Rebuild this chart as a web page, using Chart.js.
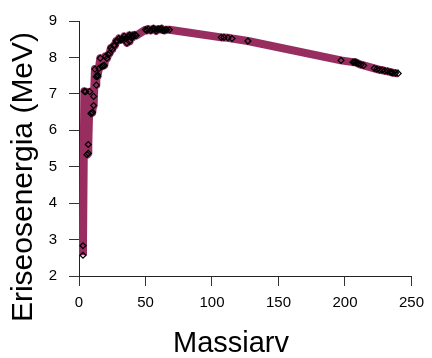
<!DOCTYPE html>
<html lang="et">
<head>
    <meta charset="UTF-8">
    <title>Eriseosenergia</title>
    <style>
        body { margin: 0; padding: 0; background: #fff; }
        canvas { display: block; }
    </style>
    <script src="https://cdn.jsdelivr.net/npm/chart.js"></script>
</head>
<body>
    <canvas id="chart" width="432" height="358"></canvas>
    <script>
        // massiarv (A) ja eriseosenergia (MeV), loetud jooniselt
        const massNumbers = [3, 3, 4, 5, 6, 7, 7, 8, 9, 10, 10, 11, 11, 12, 13, 13, 14, 14, 15, 16, 17, 18, 19,
            20, 21, 22, 23, 24, 25, 26, 27, 28, 29, 30, 31, 32, 33, 34, 35, 36, 37, 38, 38, 39, 40, 40, 41, 42, 43,
            50, 51, 52, 54, 55, 56, 57, 58, 59, 60, 61, 62, 63, 64, 65, 66, 68,
            107, 109, 112, 115, 127,
            197, 206, 207, 208, 209, 210, 212, 214,
            222, 224, 226, 228, 230, 232, 234, 235, 236, 238, 240];
        const bindingEnergies = [2.57, 2.83, 7.07, 7.06, 5.33, 5.37, 5.61, 7.06, 6.46, 6.48, 6.50, 6.93, 6.68, 7.68, 7.24, 7.47, 7.48, 7.52, 7.70, 7.98, 7.75, 7.77, 7.78,
            8.03, 7.97, 8.08, 8.11, 8.26, 8.22, 8.33, 8.33, 8.45, 8.45, 8.52, 8.48, 8.49, 8.50, 8.58, 8.52, 8.40, 8.57, 8.44, 8.61, 8.56, 8.60, 8.55, 8.58, 8.62, 8.60,
            8.76, 8.74, 8.78, 8.74, 8.77, 8.79, 8.77, 8.73, 8.77, 8.78, 8.77, 8.79, 8.75, 8.74, 8.76, 8.76, 8.76,
            8.55, 8.55, 8.54, 8.52, 8.45,
            7.92, 7.87, 7.87, 7.87, 7.85, 7.83, 7.80, 7.78,
            7.70, 7.68, 7.66, 7.65, 7.63, 7.62, 7.60, 7.59, 7.58, 7.57, 7.56];
        const xTickValues = [0, 50, 100, 150, 200, 250];
        const yTickValues = [2, 3, 4, 5, 6, 7, 8, 9];

        const points = massNumbers.map((a, i) => ({ x: a, y: bindingEnergies[i] }));

        // teljepealkirjad R-i stiilis
        const axisTitles = {
            id: 'axisTitles',
            afterDraw(chart) {
                const ctx = chart.ctx;
                ctx.save();
                ctx.fillStyle = '#000';
                ctx.textAlign = 'center';
                ctx.textBaseline = 'alphabetic';
                ctx.font = '29px Arial, "Liberation Sans", sans-serif';
                ctx.fillText('Massiarv', 231, 352);
                ctx.font = '30px Arial, "Liberation Sans", sans-serif';
                ctx.translate(32, 177);
                ctx.rotate(-Math.PI / 2);
                ctx.fillText('Eriseosenergia (MeV)', 0, 0);
                ctx.restore();
            }
        };

        const tickFont = { family: 'Arial, "Liberation Sans", sans-serif', size: 15 };

        new Chart(document.getElementById('chart'), {
            type: 'line',
            data: {
                datasets: [{
                    data: points,
                    borderColor: '#982e60',
                    borderWidth: 8,
                    borderJoinStyle: 'round',
                    tension: 0,
                    clip: false,
                    pointStyle: 'rectRot',
                    pointRadius: 3,
                    pointBorderWidth: 1.2,
                    pointBorderColor: '#000',
                    pointBackgroundColor: 'rgba(0,0,0,0)'
                }]
            },
            options: {
                responsive: false,
                animation: false,
                layout: { padding: { top: 10, right: 14, bottom: 0, left: 0 } },
                plugins: { legend: { display: false }, tooltip: { enabled: false } },
                scales: {
                    x: {
                        type: 'linear',
                        min: 0,
                        max: 250,
                        afterBuildTicks: s => { s.ticks = xTickValues.map(v => ({ value: v })); },
                        afterFit: s => { s.height = 82; },
                        grid: { drawOnChartArea: false, drawTicks: true, tickLength: 10, color: '#333' },
                        border: { display: true, color: '#222', width: 1 },
                        ticks: { color: '#000', font: tickFont, padding: 8, maxRotation: 0 }
                    },
                    y: {
                        type: 'linear',
                        min: 2,
                        max: 9,
                        afterBuildTicks: s => { s.ticks = yTickValues.map(v => ({ value: v })); },
                        afterFit: s => { s.width = 79; },
                        grid: { drawOnChartArea: false, drawTicks: true, tickLength: 10, color: '#333' },
                        border: { display: true, color: '#222', width: 1 },
                        ticks: { color: '#000', font: tickFont, padding: 12 }
                    }
                }
            },
            plugins: [axisTitles]
        });
    </script>
</body>
</html>
